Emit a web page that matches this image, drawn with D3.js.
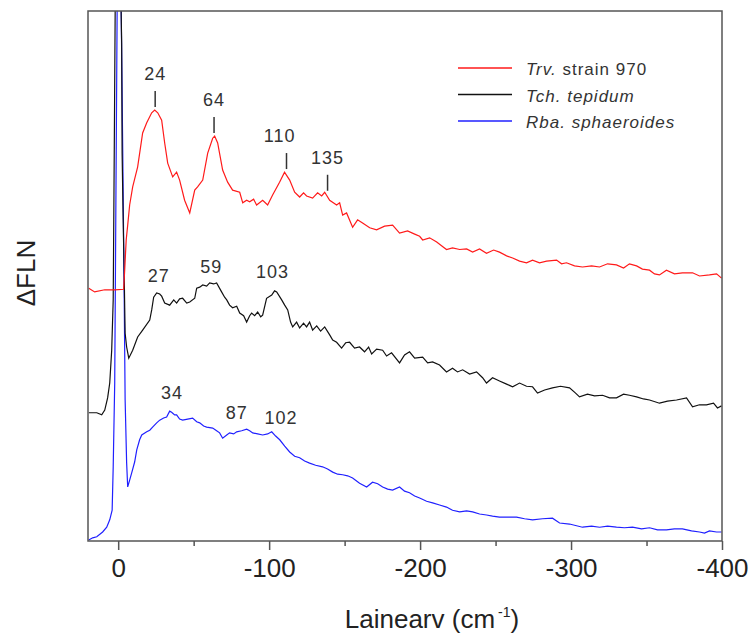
<!DOCTYPE html>
<html lang="en">
  <head>
    <title>Delta FLN spectra</title>
    <script src="https://d3js.org/d3.v7.min.js"></script>
    <style>
      body {
        margin: 0;
        background: #fff;
      }

      .frame {
        fill: none;
        stroke: #555;
        stroke-width: 1.5;
      }

      .axis line {
        stroke: #555;
        stroke-width: 1.5;
      }

      .axis text {
        font-family: "Liberation Sans", Arial, sans-serif;
        font-size: 26px;
        fill: #222;
      }

      .curve {
        fill: none;
        stroke-width: 1.2;
      }

      .peak {
        font-family: "Liberation Sans", Arial, sans-serif;
        font-size: 18px;
        letter-spacing: 1px;
        fill: #333;
        text-anchor: middle;
      }

      .peak-tick {
        stroke: #333;
        stroke-width: 1.5;
      }

      .legend text {
        font-family: "Liberation Sans", Arial, sans-serif;
        font-size: 17px;
        letter-spacing: 1px;
        fill: #333;
      }

      .title {
        font-family: "Liberation Sans", Arial, sans-serif;
        font-size: 26px;
        fill: #222;
      }
    </style>
  </head>
  <body>
    <script>
      // shift (cm-1) and intensity (arb. units)
      const trv = [
        [19.5,47.7],[15.6,47.0],[8.9,47.4],[2.3,47.4],[-3.6,47.5],[-4.3,51.1],[-5.3,56.8],[-6.3,59.6],
        [-7.6,63.4],[-9.6,66.8],[-12.9,70.6],[-16.2,77.0],[-18.9,78.9],[-22.2,80.8],[-24.2,81.3],[-26.2,80.8],
        [-28.8,79.4],[-30.8,75.1],[-32.8,71.3],[-36.1,68.7],[-38.7,69.6],[-40.7,68.1],[-44.0,64.3],[-47.4,61.9],
        [-50.7,66.2],[-52.6,66.8],[-56.0,68.1],[-59.3,73.2],[-62.6,76.0],[-63.9,76.4],[-65.9,75.1],[-69.2,70.0],
        [-72.5,67.7],[-75.8,66.2],[-80.5,65.8],[-82.5,63.8],[-85.1,64.3],[-87.1,64.0],[-89.7,64.5],[-91.7,63.4],
        [-95.7,64.3],[-99.0,63.4],[-102.3,65.3],[-106.9,67.7],[-110.2,69.6],[-113.6,68.1],[-116.9,65.8],[-120.2,64.9],
        [-122.8,65.7],[-124.8,65.1],[-128.8,64.7],[-132.1,65.7],[-134.8,65.1],[-136.8,65.8],[-140.1,64.3],[-144.7,63.4],
        [-146.7,63.8],[-148.7,61.5],[-151.3,61.9],[-155.3,59.2],[-158.6,60.6],[-161.9,60.0],[-166.6,59.1],[-171.2,58.7],
        [-176.5,59.4],[-181.8,59.6],[-186.4,58.1],[-191.7,58.5],[-196.4,57.9],[-199.7,57.5],[-201.7,56.8],[-206.3,57.2],
        [-211.0,56.4],[-214.2,55.7],[-217.5,55.0],[-221.5,55.3],[-226.2,55.0],[-230.8,55.1],[-234.8,54.5],[-239.4,55.1],
        [-244.0,54.3],[-248.7,54.9],[-252.6,54.5],[-257.3,53.8],[-261.3,53.4],[-265.9,52.8],[-270.5,52.5],[-274.5,53.0],
        [-279.1,52.5],[-283.8,52.8],[-290.4,53.0],[-293.7,52.3],[-297.0,52.5],[-302.3,51.9],[-307.6,51.7],[-313.6,51.9],
        [-318.9,51.7],[-324.2,52.3],[-330.1,52.1],[-334.8,51.5],[-338.7,52.3],[-343.4,51.9],[-347.3,51.3],[-352.0,51.1],
        [-355.3,50.4],[-358.6,50.2],[-363.2,51.1],[-368.5,50.4],[-373.8,50.6],[-380.5,50.6],[-385.1,50.0],[-391.7,50.2],
        [-396.4,50.4],[-399.7,49.6]
      ];

      const tch = [
        [19.5,24.2],[14.2,24.2],[10.9,23.8],[8.9,24.7],[7.0,27.0],[5.6,29.8],[4.3,36.0],[3.3,45.5],
        [2.6,73.8],[2.0,100],[0.3,125],[-1.7,104],[-2.3,94.0],[-2.6,73.2],[-3.3,60.6],[-4.0,49.8],
        [-4.6,39.2],[-5.6,36.6],[-7.0,34.5],[-9.6,36.0],[-12.9,38.5],[-16.2,39.8],[-20.9,41.7],[-22.2,43.6],
        [-23.5,46.0],[-25.5,46.8],[-27.5,46.6],[-28.8,46.2],[-30.8,44.9],[-34.1,44.5],[-36.8,45.5],[-38.7,44.9],
        [-40.7,45.7],[-42.7,45.8],[-45.4,44.9],[-47.4,45.1],[-50.7,45.8],[-52.0,47.7],[-54.0,47.9],[-56.0,48.3],
        [-58.6,48.1],[-60.6,48.7],[-63.2,48.5],[-65.2,48.7],[-68.5,47.0],[-70.5,46.0],[-71.9,45.5],[-73.8,44.5],
        [-75.8,44.0],[-78.5,44.3],[-80.5,43.0],[-83.1,42.5],[-85.1,41.3],[-87.1,42.5],[-88.4,43.0],[-90.4,42.5],
        [-92.4,43.2],[-94.4,42.3],[-95.7,42.6],[-98.3,45.8],[-101.7,46.4],[-103.6,47.2],[-105.0,47.0],[-108.3,45.5],
        [-110.3,44.5],[-112.3,43.6],[-114.2,41.3],[-115.6,40.4],[-118.2,41.3],[-120.2,40.2],[-122.8,41.1],[-124.8,40.4],
        [-126.8,41.3],[-128.8,39.8],[-131.5,40.6],[-134.1,39.6],[-136.8,40.4],[-140.1,38.9],[-142.1,37.9],[-144.7,37.5],
        [-148.0,36.4],[-150.7,37.4],[-153.3,37.5],[-156.6,36.4],[-159.9,36.6],[-163.2,35.7],[-165.9,36.6],[-167.9,35.3],
        [-171.2,36.2],[-175.2,36.0],[-177.8,34.9],[-181.1,35.5],[-186.4,33.6],[-189.7,35.1],[-193.0,35.7],[-196.4,34.5],
        [-201.7,34.7],[-205.0,33.6],[-208.3,33.8],[-212.9,33.2],[-217.5,31.9],[-221.5,32.6],[-224.8,31.9],[-228.2,32.3],
        [-232.8,31.5],[-237.4,31.9],[-241.4,30.8],[-244.0,29.8],[-248.0,30.8],[-252.6,30.2],[-257.3,29.6],[-261.3,29.1],
        [-265.9,29.8],[-270.5,29.2],[-274.5,29.1],[-277.8,27.9],[-282.5,28.5],[-287.7,28.9],[-293.0,29.2],[-299.0,28.9],
        [-303.0,27.9],[-305.6,27.2],[-310.9,27.7],[-315.6,27.4],[-320.9,27.5],[-325.5,27.0],[-330.1,27.0],[-334.8,27.7],
        [-338.7,27.5],[-343.4,27.2],[-348.0,26.8],[-352.0,26.6],[-358.6,26.0],[-363.9,26.4],[-369.9,26.6],[-376.5,27.0],
        [-380.5,25.3],[-385.1,25.7],[-389.7,25.7],[-394.4,26.0],[-397.0,25.1],[-399.7,25.5]
      ];

      const rba = [
        [19.5,0.2],[16.9,0.6],[14.2,0.8],[10.3,1.7],[7.6,2.6],[5.6,4.0],[4.0,5.8],[3.3,14.0],
        [2.3,29.8],[1.3,73.8],[0.7,100],[-0.7,125],[-2.0,100],[-3.0,73.8],[-4.0,45.5],[-4.6,26.6],
        [-5.6,14.7],[-6.3,10.2],[-7.6,11.5],[-8.9,12.8],[-10.9,14.9],[-12.3,17.2],[-14.2,19.1],[-15.6,20.0],
        [-18.9,20.6],[-20.9,20.9],[-22.8,21.5],[-25.5,22.3],[-27.5,22.8],[-30.1,23.2],[-32.1,23.4],[-34.1,24.5],
        [-35.4,24.3],[-37.4,23.8],[-38.7,23.8],[-40.7,23.0],[-42.7,22.8],[-46.0,23.0],[-49.3,23.2],[-52.0,22.5],
        [-54.0,22.3],[-56.6,21.7],[-58.6,21.5],[-62.6,21.3],[-65.2,20.8],[-67.2,20.4],[-69.2,19.4],[-71.9,20.0],
        [-73.8,20.4],[-76.5,20.2],[-78.5,20.6],[-81.8,20.8],[-85.1,21.1],[-87.1,20.8],[-89.1,20.4],[-92.4,20.2],
        [-95.7,20.0],[-99.0,20.2],[-101.7,20.6],[-104.3,19.8],[-107.0,19.1],[-110.3,17.9],[-113.6,16.8],[-116.9,16.0],
        [-120.2,15.7],[-123.5,15.1],[-126.8,14.7],[-130.8,14.3],[-135.4,14.0],[-138.7,13.6],[-142.1,13.0],[-145.4,12.6],
        [-148.7,12.5],[-152.0,12.3],[-155.3,11.9],[-159.9,10.9],[-164.6,10.2],[-168.5,11.1],[-171.9,10.8],[-175.2,10.2],
        [-178.5,9.8],[-181.8,9.6],[-186.4,10.2],[-189.7,9.4],[-193.0,9.1],[-196.4,8.5],[-199.7,8.1],[-204.3,7.5],
        [-208.3,7.2],[-212.9,6.8],[-217.5,6.4],[-221.5,5.8],[-226.2,5.5],[-230.8,5.7],[-234.8,5.5],[-239.4,5.1],
        [-244.0,4.9],[-248.0,4.7],[-252.6,4.5],[-257.9,4.5],[-263.9,4.5],[-269.2,4.2],[-274.5,4.0],[-281.1,4.2],
        [-287.7,4.3],[-292.4,3.4],[-299.0,3.2],[-307.6,2.6],[-313.6,2.8],[-318.9,2.6],[-324.2,2.8],[-330.1,2.6],
        [-335.4,2.5],[-340.7,2.6],[-346.7,2.3],[-352.0,2.5],[-357.3,2.1],[-363.2,2.1],[-368.5,2.3],[-373.8,2.3],
        [-379.8,1.9],[-385.1,1.7],[-388.4,1.5],[-391.7,1.9],[-396.4,1.7],[-399.7,1.7]
      ];

      const seriesNames = ['Trv.', 'Tch. tepidum', 'Rba. sphaeroides'];
      const seriesSuffix = [' strain 970', '', ''];
      const seriesColors = ['#ff1a1a', '#111111', '#2020ff'];

      // marked peaks: label, shift of label, level of label / tick top
      const trvPeakLabels = ['24', '64', '110', '135'];
      const trvPeakShift = [-24.5, -63.5, -111.5, -138.7];
      const trvLabelShift = [-24.5, -63.5, -107, -138.7];
      const trvTickTop = [84.9, 80.0, 73.2, 69.1];

      const tchPeakLabels = ['27', '59', '103'];
      const tchLabelShift = [-26.8, -61.6, -102.3];
      const tchLabelLevel = [48.9, 50.6, 49.6];

      const rbaPeakLabels = ['34', '87', '102'];
      const rbaLabelShift = [-35.7, -78.5, -107.8];
      const rbaLabelLevel = [26.8, 23.0, 22.1];

      const majorTicks = [0, -100, -200, -300, -400];
      const minorTicks = [-50, -150, -250, -350];

      const w = 751;
      const h = 634;
      const plotLeft = 88, plotRight = 722, plotTop = 11, plotBottom = 541;

      const xScale = d3.scaleLinear()
                       .domain([20, -400])
                       .range([plotLeft, plotRight]);

      const yScale = d3.scaleLinear()
                       .domain([0, 100])
                       .range([plotBottom, plotTop]);

      const svg = d3.select('body')
                    .append('svg')
                    .attr('width', w)
                    .attr('height', h);

      svg.append('clipPath')
         .attr('id', 'plot-clip')
         .append('rect')
          .attr('x', plotLeft)
          .attr('y', plotTop)
          .attr('width', plotRight - plotLeft)
          .attr('height', plotBottom - plotTop);

      const line = d3.line()
                     .x(d => xScale(d[0]))
                     .y(d => yScale(d[1]));

      const curves = svg.append('g').attr('clip-path', 'url(#plot-clip)');
      [rba, tch, trv].forEach((data, i) => {
        curves.append('path')
              .datum(data)
              .attr('class', 'curve')
              .attr('stroke', seriesColors[2 - i])
              .attr('d', line);
      });

      // peak labels
      svg.selectAll('.trv-peak')
         .data(trvPeakLabels)
         .enter()
         .append('text')
          .attr('class', 'peak')
          .attr('x', (d, i) => xScale(trvLabelShift[i]))
          .attr('y', (d, i) => yScale(trvTickTop[i]) - 11)
          .text(d => d);

      svg.selectAll('.peak-tick')
         .data(trvPeakLabels)
         .enter()
         .append('line')
          .attr('class', 'peak-tick')
          .attr('x1', (d, i) => xScale(trvPeakShift[i]))
          .attr('x2', (d, i) => xScale(trvPeakShift[i]))
          .attr('y1', (d, i) => yScale(trvTickTop[i]))
          .attr('y2', (d, i) => yScale(trvTickTop[i]) + 16);

      svg.selectAll('.tch-peak')
         .data(tchPeakLabels)
         .enter()
         .append('text')
          .attr('class', 'peak')
          .attr('x', (d, i) => xScale(tchLabelShift[i]))
          .attr('y', (d, i) => yScale(tchLabelLevel[i]))
          .text(d => d);

      svg.selectAll('.rba-peak')
         .data(rbaPeakLabels)
         .enter()
         .append('text')
          .attr('class', 'peak')
          .attr('x', (d, i) => xScale(rbaLabelShift[i]))
          .attr('y', (d, i) => yScale(rbaLabelLevel[i]))
          .text(d => d);

      // frame and axes
      svg.append('rect')
         .attr('class', 'frame')
         .attr('x', plotLeft)
         .attr('y', plotTop)
         .attr('width', plotRight - plotLeft)
         .attr('height', plotBottom - plotTop);

      const xAxis = d3.axisBottom(xScale)
                      .tickValues(majorTicks)
                      .tickSize(9)
                      .tickPadding(9)
                      .tickFormat(d => String(d));

      const xMinor = d3.axisBottom(xScale)
                       .tickValues(minorTicks)
                       .tickSize(5)
                       .tickFormat('');

      svg.append('g')
         .attr('class', 'axis')
         .attr('transform', `translate(0, ${plotBottom})`)
         .call(xAxis)
         .call(g => g.select('.domain').remove());

      svg.append('g')
         .attr('class', 'axis')
         .attr('transform', `translate(0, ${plotBottom})`)
         .call(xMinor)
         .call(g => g.select('.domain').remove());

      const xLabel = svg.append('text')
                        .attr('class', 'title')
                        .attr('x', 432)
                        .attr('y', 628)
                        .attr('text-anchor', 'middle');
      xLabel.append('tspan').text('Lainearv (cm');
      xLabel.append('tspan')
            .attr('dx', 3)
            .attr('dy', -11)
            .style('font-size', '14px')
            .text('-1');
      xLabel.append('tspan')
            .attr('dy', 11)
            .text(')');

      svg.append('text')
         .attr('class', 'title')
         .attr('transform', 'translate(35, 273) rotate(-90)')
         .attr('text-anchor', 'middle')
         .text('\u0394FLN');

      // legend
      const legend = svg.append('g').attr('class', 'legend');
      seriesNames.forEach((name, i) => {
        const y = 68 + i * 26.5;
        legend.append('line')
              .attr('x1', 458)
              .attr('x2', 512)
              .attr('y1', y)
              .attr('y2', y)
              .attr('stroke', seriesColors[i])
              .attr('stroke-width', 1.5);
        const t = legend.append('text')
                        .attr('x', 526)
                        .attr('y', y + 7);
        t.append('tspan').style('font-style', 'italic').text(name);
        if (seriesSuffix[i]) t.append('tspan').text(seriesSuffix[i]);
      });
    </script>
  </body>
</html>
